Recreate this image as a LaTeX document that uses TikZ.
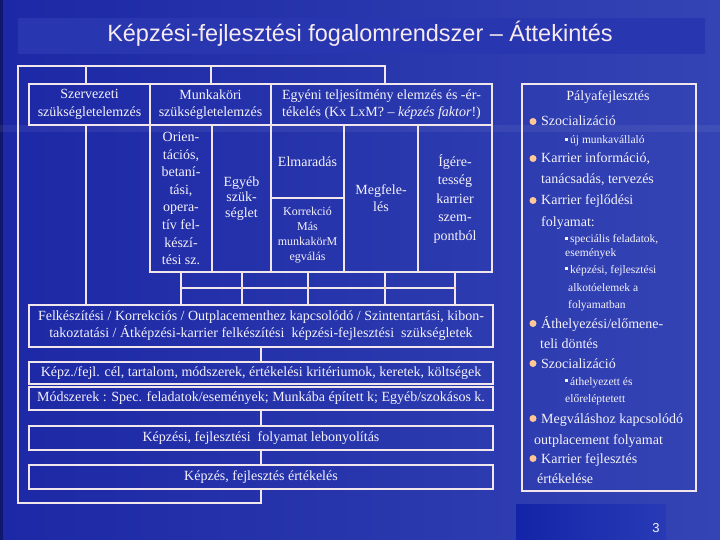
\documentclass[tikz,border=0pt]{standalone}
\usepackage{fontspec}
\setmainfont{Liberation Serif}
\newfontfamily\titlefont{Liberation Sans}
\definecolor{bgL}{RGB}{28,40,165}
\definecolor{bgR}{RGB}{52,68,180}
\definecolor{bandc}{RGB}{40,54,176}
\definecolor{darkstrip}{RGB}{16,24,110}
\definecolor{linec}{RGB}{240,230,236}
\definecolor{txt}{RGB}{245,242,250}
\definecolor{titlec}{RGB}{246,234,240}
\definecolor{peach}{RGB}{255,200,150}
\definecolor{pgL}{RGB}{20,36,168}
\definecolor{pgR}{RGB}{40,58,182}
\begin{document}
\begin{tikzpicture}[x=1pt,y=-1pt,
  bx/.style={draw=linec,line width=1.7pt,inner sep=0pt,text=txt,align=center,font=\fontsize{14}{17.6}\selectfont},
  conn/.style={draw=linec,line width=2pt},
  rt/.style={anchor=base west,inner sep=0pt,text=txt,font=\fontsize{14}{16}\selectfont},
  rs/.style={anchor=base west,inner sep=0pt,text=txt,font=\fontsize{11.5}{13}\selectfont},
  bul/.style={fill=peach},
  sq/.style={fill=txt}]
\useasboundingbox (0,0) rectangle (720,540);
% background
\shade[left color=bgL,right color=bgR] (0,0) rectangle (720,540);
\fill[darkstrip] (0,0) rectangle (3,540);
\fill[white,opacity=0.06] (0,125) rectangle (720,132);
\fill[bandc] (18,18) rectangle (705,54);
\node[font=\titlefont\fontsize{23.5}{26}\selectfont,text=titlec,anchor=base] (title) at (360,42) {Képzési-fejlesztési fogalomrendszer – Áttekintés};
% page number
\shade[left color=pgL,right color=pgR] (516,504) rectangle (666,540);
\node[font=\titlefont\fontsize{13}{15}\selectfont,text=txt] (pg) at (656,528) {3};

% boxes
\node[bx,minimum width=121pt,minimum height=41pt] (szerv) at (89.5,104.5) {Szervezeti\\szükségletelemzés};
\node[bx,minimum width=121pt,minimum height=41pt] (munk) at (210.5,104.5) {Munkaköri\\szükségletelemzés};
\node[bx,minimum width=221pt,minimum height=41pt] (egyeni) at (381.5,104.5) {Egyéni teljesítmény elemzés és -ér-\\tékelés (Kx LxM? – \textit{képzés faktor}!)};
\node[bx,minimum width=62pt,minimum height=147pt] (orient) at (181,198.5) {Orien-\\tációs,\\betaní-\\tási,\\opera-\\tív fel-\\készí-\\tési sz.};
\node[bx,minimum width=59pt,minimum height=147pt,font=\fontsize{14}{15.5}\selectfont] (egyeb) at (241.5,198.5) {Egyéb\\szük-\\séglet};
\node[bx,minimum width=73pt,minimum height=73pt] (elmar) at (307.5,161.5) {Elmaradás};
\node[bx,minimum width=73pt,minimum height=74pt,font=\fontsize{12}{15}\selectfont] (korr) at (307.5,235) {Korrekció\\Más\\munkakörM\\egválás};
\node[bx,minimum width=74pt,minimum height=147pt,font=\fontsize{14}{17}\selectfont] (megf) at (381,198.5) {Megfele-\\lés};
\node[bx,minimum width=74pt,minimum height=147pt,font=\fontsize{14}{18.5}\selectfont] (iger) at (455,198.5) {Ígére-\\tesség\\karrier\\szem-\\pontból};
\node[bx,minimum width=464pt,minimum height=42pt,font=\fontsize{14}{17}\selectfont] (felk) at (261,326) {Felkészítési / Korrekciós / Outplacementhez kapcsolódó / Szintentartási, kibon-\\takoztatási / Átképzési-karrier felkészítési\ \ képzési-fejlesztési\ \ szükségletek};
\node[bx,minimum width=464pt,minimum height=22pt] (kepz) at (261,373) {Képz./fejl. cél, tartalom, módszerek, értékelési kritériumok, keretek, költségek};
\node[bx,minimum width=464pt,minimum height=23pt] (modsz) at (261,398.5) {Módszerek : Spec. feladatok/események; Munkába épített k; Egyéb/szokásos k.};
\node[bx,minimum width=464pt,minimum height=24pt] (folyam) at (261,438) {Képzési, fejlesztési\ \ folyamat lebonyolítás};
\node[bx,minimum width=464pt,minimum height=24pt] (ertek) at (261,477) {Képzés, fejlesztés értékelés};
\node[bx,minimum width=174pt,minimum height=407pt] (palya) at (609,287.5) {};

% connectors
\coordinate (tl) at (18,66);
\coordinate (tr) at (385,66);
\coordinate (t1) at (86,66);
\coordinate (bl) at (18,503);
\coordinate (hy) at (0,288);
\draw[conn] (ertek.south) -- (ertek.south |- bl) -- (bl) -- (tl) -- (tr) -- (tr |- egyeni.north);
\draw[conn] (t1) -- (t1 |- szerv.north);
\draw[conn] (munk.north |- tl) -- (munk.north);
\draw[conn] (t1 |- szerv.south) -- (t1 |- felk.north);
\draw[conn] (orient.south) -- (orient.south |- felk.north);
\draw[conn] (egyeb.south) -- (egyeb.south |- felk.north);
\draw[conn] (korr.south) -- (korr.south |- felk.north);
\draw[conn] (tr |- megf.south) -- (tr |- felk.north);
\draw[conn] (iger.south) -- (iger.south |- felk.north);
\draw[conn] (orient.south |- hy) -- (iger.south |- hy);
\foreach \n in {egyeb,korr,iger} \fill[peach] (\n.south |- hy) circle (1.2pt);
\fill[peach] (tr |- hy) circle (1.2pt);
\draw[conn] (felk.south) -- (kepz.north);
\draw[conn] (modsz.south) -- (folyam.north);
\draw[conn] (folyam.south) -- (ertek.north);

% right column text
\node[rt,anchor=base] (ptitle) at (608,100.7) {Pályafejlesztés};
\node[rt] (r1) at (541,126) {Szocializáció};
\node[rs] (s1) at (570,144) {új munkavállaló};
\node[rt] (r2) at (541,163) {Karrier információ,};
\node[rt] (r3) at (541,184) {tanácsadás, tervezés};
\node[rt] (r4) at (541,205) {Karrier fejlődési};
\node[rt] (r5) at (541,226) {folyamat:};
\node[rs] (s2) at (570,243) {speciális feladatok,};
\node[rs] (s3) at (565,256) {események};
\node[rs] (s4) at (570,273) {képzési, fejlesztési};
\node[rs] (s5) at (568,291) {alkotóelemek a};
\node[rs] (s6) at (568,308) {folyamatban};
\node[rt] (r6) at (541,328) {Áthelyezési/előmene-};
\node[rt] (r7) at (540,348) {teli döntés};
\node[rt] (r8) at (541,368) {Szocializáció};
\node[rs] (s7) at (570,385) {áthelyezett és};
\node[rs] (s8) at (565,402) {előreléptetett};
\node[rt] (r9) at (541,423) {Megváláshoz kapcsolódó};
\node[rt] (r10) at (534,444) {outplacement folyamat};
\node[rt] (r11) at (541,463) {Karrier fejlesztés};
\node[rt] (r12) at (537,483) {értékelése};
\foreach \y in {126,163,205,328,368,423,463} \fill[bul] (533,\y-4.5) circle (3.5pt);
\foreach \y in {144,243,273,385} \fill[sq] (565,\y-6) rectangle (568,\y-3);
\end{tikzpicture}
\end{document}
